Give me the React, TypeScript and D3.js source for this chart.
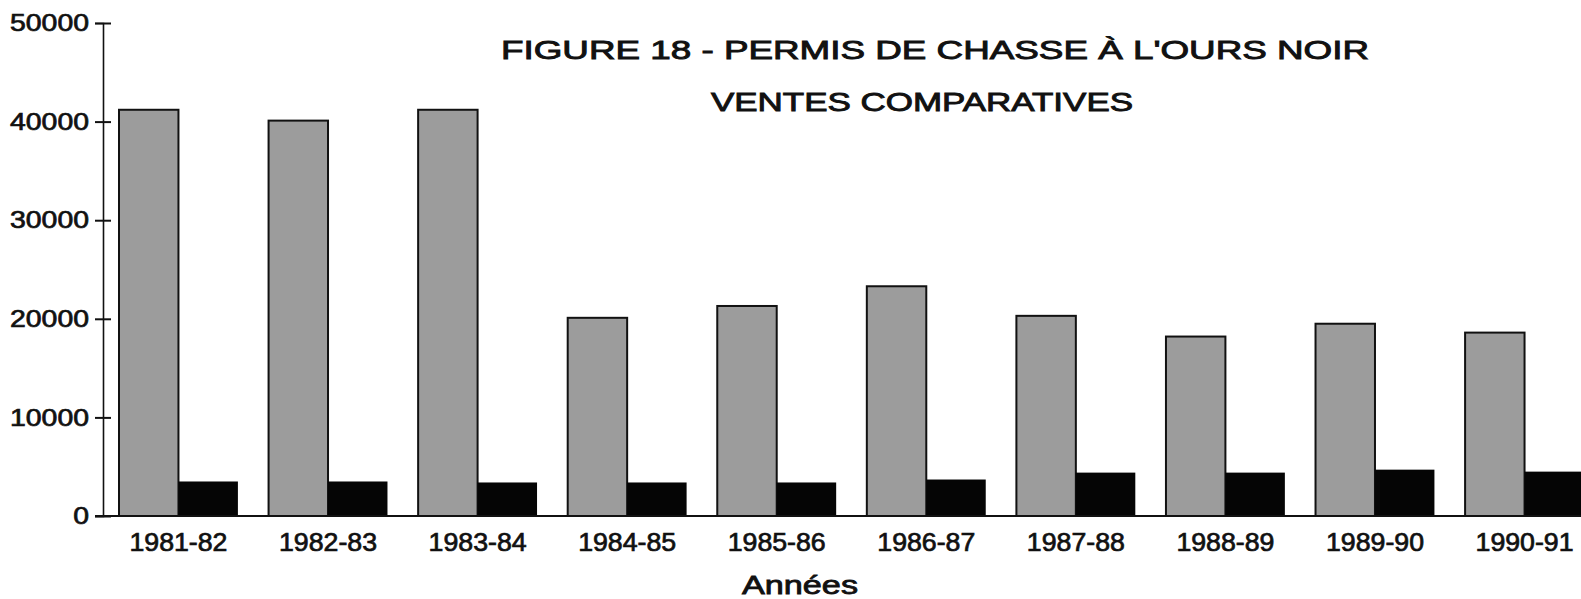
import React, { useEffect, useRef } from 'react';
import * as d3 from 'd3';

const years = ['1981-82', '1982-83', '1983-84', '1984-85', '1985-86', '1986-87', '1987-88', '1988-89', '1989-90', '1990-91'];
// gray bars (left of each pair) and black bars (right of each pair)
const grayValues = [41200, 40100, 41200, 20100, 21300, 23300, 20300, 18200, 19500, 18600];
const blackValues = [3500, 3500, 3400, 3400, 3400, 3700, 4400, 4400, 4700, 4500];
const yTicks = [0, 10000, 20000, 30000, 40000, 50000];
const titleLines = ["FIGURE 18 - PERMIS DE CHASSE À L'OURS NOIR", 'VENTES COMPARATIVES'];
const xTitle = 'Années';

const W = 1581;
const H = 599;
const FONT = '"Liberation Sans", Arial, Helvetica, sans-serif';

export default function App() {
  const ref = useRef<SVGSVGElement>(null);

  useEffect(() => {
    const svg = d3.select(ref.current);
    svg.selectAll('*').remove();

    const axisX = 103;
    const y = d3.scaleLinear().domain([0, 50000]).range([516, 23]);

    const x = d3.scaleBand<string>()
      .domain(years)
      .range([axisX, 1600])
      .paddingInner(0.205)
      .paddingOuter(0.107);

    const sub = d3.scaleBand<string>()
      .domain(['gray', 'black'])
      .range([0, x.bandwidth()]);

    const groups = svg.append('g')
      .selectAll('g')
      .data(years)
      .enter()
      .append('g')
      .attr('transform', d => `translate(${x(d)},0)`);

    groups.append('rect')
      .attr('x', sub('gray') || 0)
      .attr('y', (d, i) => y(grayValues[i]))
      .attr('width', sub.bandwidth())
      .attr('height', (d, i) => y(0) - y(grayValues[i]))
      .attr('fill', '#9c9c9c')
      .attr('stroke', '#111')
      .attr('stroke-width', 2);

    groups.append('rect')
      .attr('x', sub('black') || 0)
      .attr('y', (d, i) => y(blackValues[i]))
      .attr('width', sub.bandwidth())
      .attr('height', (d, i) => y(0) - y(blackValues[i]))
      .attr('fill', '#050505');

    // baseline
    svg.append('line')
      .attr('x1', axisX - 8)
      .attr('x2', W)
      .attr('y1', y(0))
      .attr('y2', y(0))
      .attr('stroke', '#111')
      .attr('stroke-width', 2);

    // y axis
    const yAxis = svg.append('g')
      .attr('transform', `translate(${axisX},0)`)
      .call(d3.axisLeft(y).tickValues(yTicks).tickSize(8).tickPadding(6).tickFormat(d => String(d)));
    yAxis.select('.domain').attr('stroke', '#111').attr('stroke-width', 1.6);
    yAxis.selectAll('.tick line').attr('x1', -8).attr('x2', 8).attr('stroke', '#111').attr('stroke-width', 2);
    yAxis.selectAll('.tick text')
      .attr('font-family', FONT)
      .attr('font-size', 24)
      .attr('fill', '#111')
      .attr('stroke', '#111')
      .attr('stroke-width', 0.7)
      .attr('textLength', (d: any) => String(d).length * 15.8)
      .attr('lengthAdjust', 'spacingAndGlyphs');

    // x axis
    const xAxis = svg.append('g')
      .attr('transform', `translate(0,${y(0)})`)
      .call(d3.axisBottom(x).tickSize(0).tickPadding(17));
    xAxis.select('.domain').remove();
    xAxis.selectAll('.tick text')
      .attr('font-family', FONT)
      .attr('font-size', 25)
      .attr('fill', '#111')
      .attr('stroke', '#111')
      .attr('stroke-width', 0.7)
      .attr('textLength', 98)
      .attr('lengthAdjust', 'spacingAndGlyphs');

    svg.append('text')
      .attr('x', 800)
      .attr('y', 594)
      .attr('text-anchor', 'middle')
      .attr('font-family', FONT)
      .attr('font-size', 25)
      .attr('fill', '#111')
      .attr('stroke', '#111')
      .attr('stroke-width', 0.8)
      .attr('textLength', 116)
      .attr('lengthAdjust', 'spacingAndGlyphs')
      .text(xTitle);

    const titlePos = [
      { x: 501, y: 59, len: 868 },
      { x: 711, y: 111, len: 422 },
    ];
    svg.append('g')
      .selectAll('text')
      .data(titleLines)
      .enter()
      .append('text')
      .attr('x', (d, i) => titlePos[i].x)
      .attr('y', (d, i) => titlePos[i].y)
      .attr('font-family', FONT)
      .attr('font-size', 26)
      .attr('fill', '#111')
      .attr('stroke', '#111')
      .attr('stroke-width', 0.9)
      .attr('textLength', (d, i) => titlePos[i].len)
      .attr('lengthAdjust', 'spacingAndGlyphs')
      .text(d => d);
  }, []);

  return (
    <svg
      ref={ref}
      width={W}
      height={H}
      style={{ position: 'absolute', left: 0, top: 0, background: '#fff' }}
    />
  );
}
